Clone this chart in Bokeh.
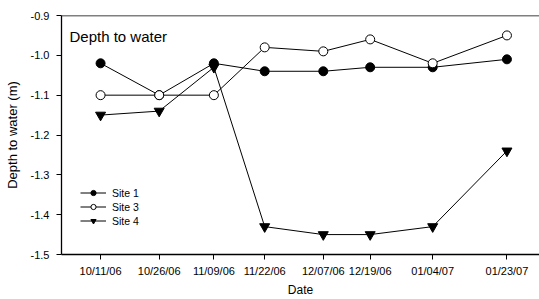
from datetime import datetime
from bokeh.plotting import figure
from bokeh.models import (FixedTicker, DatetimeTickFormatter, Range1d, Span, Label,
                          Legend, LegendItem, NumeralTickFormatter)
from bokeh.embed import file_html
from bokeh.resources import INLINE

dates = ["10/11/06", "10/26/06", "11/09/06", "11/22/06", "12/07/06", "12/19/06", "01/04/07", "01/23/07"]
site1 = [-1.02, -1.10, -1.02, -1.04, -1.04, -1.03, -1.03, -1.01]
site3 = [-1.10, -1.10, -1.10, -0.98, -0.99, -0.96, -1.02, -0.95]
site4 = [-1.15, -1.14, -1.03, -1.43, -1.45, -1.45, -1.43, -1.24]
y_ticks = [-0.9, -1.0, -1.1, -1.2, -1.3, -1.4, -1.5]

x = [datetime.strptime(d, "%m/%d/%y") for d in dates]
FONT = "Liberation Sans"

p = figure(width=539, height=299, x_axis_type="datetime", output_backend="svg",
           toolbar_location=None,
           x_range=Range1d(datetime(2006, 10, 1, 0), datetime(2007, 1, 31, 8)),
           y_range=Range1d(-1.5, -0.9),
           min_border_left=61, min_border_right=0, min_border_top=15, min_border_bottom=45)
p.outline_line_color = None
p.grid.visible = False
p.background_fill_color = "white"
p.border_fill_color = "white"

p.add_layout(Span(location=-0.9, dimension="width", line_color="black", line_width=1.3))

# x axis
p.xaxis.ticker = FixedTicker(ticks=[d.timestamp() * 1000 for d in x])
fmt = "%m/%d/%y"
p.xaxis.formatter = DatetimeTickFormatter(milliseconds=fmt, seconds=fmt, minsec=fmt, minutes=fmt,
                                          hourmin=fmt, hours=fmt, days=fmt, months=fmt, years=fmt)
p.xaxis.axis_label = "Date"
# y axis
p.yaxis.ticker = FixedTicker(ticks=y_ticks)
p.yaxis.formatter = NumeralTickFormatter(format="0.0")
p.yaxis.axis_label = "Depth to water (m)"

for ax in (p.xaxis[0], p.yaxis[0]):
    ax.axis_line_color = "black"
    ax.axis_line_width = 1.3
    ax.major_tick_line_color = "black"
    ax.major_tick_in = 0
    ax.major_tick_out = 5
    ax.minor_tick_line_color = None
    ax.major_label_text_font = FONT
    ax.major_label_text_font_size = "11px"
    ax.major_label_text_color = "black"
    ax.axis_label_text_font = FONT
    ax.axis_label_text_font_style = "normal"
    ax.axis_label_text_color = "black"
p.xaxis.axis_label_text_font_size = "12px"
p.yaxis.axis_label_text_font_size = "13px"
p.xaxis.major_label_standoff = 5
p.xaxis.axis_label_standoff = 3
p.yaxis.major_label_standoff = 7
p.yaxis.axis_label_standoff = 8

l1 = p.line(x, site1, line_color="black", line_width=1)
m1 = p.scatter(x, site1, marker="circle", size=9, fill_color="black", line_color="black")
l3 = p.line(x, site3, line_color="black", line_width=1)
m3 = p.scatter(x, site3, marker="circle", size=9, fill_color="white", line_color="black")
l4 = p.line(x, site4, line_color="black", line_width=1)
m4 = p.scatter(x, site4, marker="inverted_triangle", size=10, fill_color="black", line_color="black")

legend = Legend(items=[LegendItem(label="Site 1", renderers=[l1, m1]),
                       LegendItem(label="Site 3", renderers=[l3, m3]),
                       LegendItem(label="Site 4", renderers=[l4, m4])],
                location=(19, 27), border_line_color=None, background_fill_alpha=0,
                label_text_font=FONT, label_text_font_size="10.5px", label_text_color="black",
                glyph_width=26, glyph_height=13, label_height=13, spacing=1, label_standoff=6,
                padding=0, margin=0)
p.add_layout(legend)

p.add_layout(Label(x=8, y=239 - 12, x_units="screen", y_units="screen", text="Depth to water",
                   text_font=FONT, text_font_size="15px", text_color="black",
                   text_baseline="top"))

open("out.html", "w").write(file_html(p, INLINE))
